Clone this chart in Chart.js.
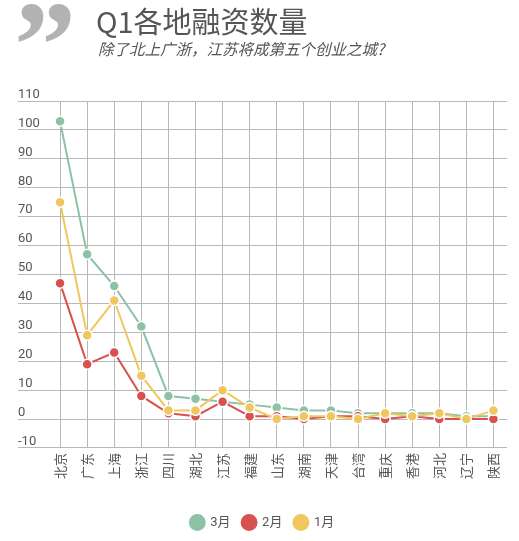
<!DOCTYPE html>
<html>
<head>
<meta charset="utf-8">
<script src="https://cdn.jsdelivr.net/npm/chart.js@4.4.0/dist/chart.umd.min.js"></script>
<style>
  body { margin: 0; background: #fff; }
  #wrap { position: relative; width: 519px; height: 541px; }
  #chart { position: absolute; left: 0; top: 0; }
  .quote { position: absolute; left: 14px; top: -16px; font: bold 124px "Liberation Serif", serif; color: #b3b3b3; line-height: 1; }
  .title { position: absolute; left: 96px; top: -1px; font: 29px "Noto Sans CJK SC", sans-serif; color: #555; }
  .sub { position: absolute; left: 98px; top: 37px; font: italic 15.5px "Noto Sans CJK SC", sans-serif; color: #555; }
</style>
</head>
<body>
<div id="wrap">
  <canvas id="chart" width="519" height="541"></canvas>
  <div class="quote">”</div>
  <div class="title">Q1各地融资数量</div>
  <div class="sub">除了北上广浙，江苏将成第五个创业之城?</div>
</div>
<script>
// villes et valeurs
const cities = ["北京", "广东", "上海", "浙江", "四川", "湖北", "江苏", "福建", "山东", "湖南", "天津", "台湾", "重庆", "香港", "河北", "辽宁", "陕西"]
const march = [103, 57, 46, 32, 8, 7, 6, 5, 4, 3, 3, 2, 2, 2, 2, 1, 1]
const february = [47, 19, 23, 8, 2, 1, 6, 1, 1, 0, 1, 1, 0, 1, 0, 0, 0]
const january = [75, 29, 41, 15, 3, 3, 10, 4, 0, 1, 1, 0, 2, 1, 2, 0, 3]
const seriesNames = ["3月", "2月", "1月"]
const colors = ["#8dc3a5", "#d9514f", "#f0c75f"]

function makeSet(label, data, color, order) {
  return {
    label: label,
    data: data,
    borderColor: color,
    backgroundColor: color,
    borderWidth: 2,
    pointRadius: 5,
    pointBorderColor: "#fff",
    pointBorderWidth: 1.5,
    pointBackgroundColor: color,
    tension: 0,
    order: order,
  }
}

const ctx = document.getElementById("chart").getContext("2d")
new Chart(ctx, {
  type: "line",
  data: {
    labels: cities,
    datasets: [
      makeSet(seriesNames[0], march, colors[0], 3),
      makeSet(seriesNames[1], february, colors[1], 2),
      makeSet(seriesNames[2], january, colors[2], 1),
    ],
  },
  options: {
    responsive: false,
    animation: false,
    layout: { padding: { left: 18, right: 12, top: 101, bottom: 2 } },
    plugins: {
      legend: {
        position: "bottom",
        labels: {
          usePointStyle: true,
          pointStyle: "circle",
          boxWidth: 14,
          boxHeight: 14,
          padding: 12,
          color: "#555",
          font: { family: "Roboto, 'Noto Sans CJK SC'", size: 13 },
          sort: (a, b) => a.datasetIndex - b.datasetIndex,
        },
      },
      tooltip: { enabled: false },
    },
    scales: {
      x: {
        offset: true,
        border: { display: false },
        grid: { color: "#b8b8b8", drawTicks: false },
        afterFit: (scale) => { scale.height += 20 },
        ticks: {
          minRotation: 90,
          maxRotation: 90,
          padding: 5,
          color: "#555",
          font: { family: "'Noto Sans CJK SC'", size: 13 },
        },
      },
      y: {
        min: -10,
        max: 110,
        border: { display: false },
        grid: { color: "#b8b8b8", tickLength: 28.5 },
        afterFit: (scale) => { scale.width = 28.5 },
        ticks: {
          stepSize: 10,
          align: "end",
          crossAlign: "far",
          padding: 0,
          color: "#555",
          font: { family: "Roboto", size: 13 },
        },
      },
    },
  },
})
</script>
</body>
</html>
